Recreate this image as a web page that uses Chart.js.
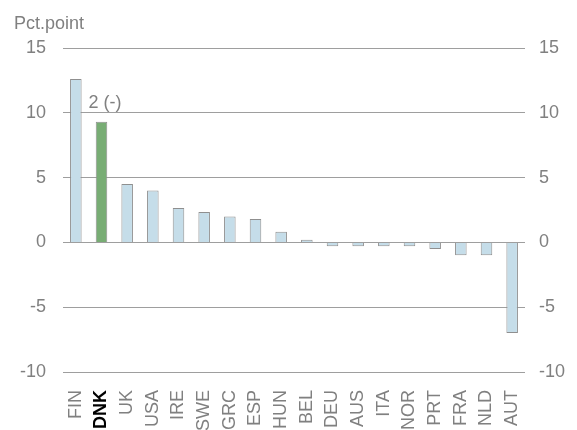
<!DOCTYPE html>
<html>
<head>
<meta charset="utf-8">
<script src="https://cdn.jsdelivr.net/npm/chart.js@4"></script>
<style>
	html, body { margin: 0; padding: 0; background: #fff; }
	#wrap { width: 577px; height: 430px; }
</style>
</head>
<body>
<div id="wrap"><canvas id="chart" width="577" height="430"></canvas></div>
<script>
// Negara dan nilai (pct.point)
const countries = ['FIN', 'DNK', 'UK', 'USA', 'IRE', 'SWE', 'GRC', 'ESP', 'HUN', 'BEL', 'DEU', 'AUS', 'ITA', 'NOR', 'PRT', 'FRA', 'NLD', 'AUT'];
const values = [12.6, 9.3, 4.5, 4.0, 2.65, 2.35, 2.0, 1.8, 0.82, 0.2, -0.3, -0.3, -0.3, -0.3, -0.5, -1.0, -1.0, -7.0];
const yTicks = [15, 10, 5, 0, -5, -10];
const highlight = 'DNK';
const unitLabel = 'Pct.point';
const rankNote = '2 (-)';

const barFill = '#c5dde9';
const barFillHi = '#78ad74';
const barBorder = '#8f8f8f';
const textGray = '#808080';
const FONT = 'Liberation Sans, Arial, sans-serif';

const fills = countries.map(c => c === highlight ? barFillHi : barFill);

// Teks tambahan: satuan di kiri atas dan catatan peringkat di atas DNK
const notesPlugin = {
	id: 'notes',
	afterDraw(chart) {
		const ctx = chart.ctx;
		const x = chart.scales.x;
		const y = chart.scales.y;
		const i = countries.indexOf(highlight);
		ctx.save();
		ctx.fillStyle = textGray;
		ctx.font = '18px ' + FONT;
		ctx.textBaseline = 'alphabetic';
		ctx.textAlign = 'left';
		ctx.fillText(unitLabel, 14, 29);
		ctx.fillText(rankNote, x.getPixelForValue(i) - 13, y.getPixelForValue(values[i] + 1.6) + 7);
		ctx.restore();
	}
};

new Chart(document.getElementById('chart'), {
	type: 'bar',
	data: {
		labels: countries,
		datasets: [{
			data: values,
			backgroundColor: fills,
			borderColor: barBorder,
			borderWidth: 1,
			barPercentage: 0.45,
			categoryPercentage: 1
		}]
	},
	options: {
		responsive: false,
		animation: false,
		layout: { padding: { top: 48, left: 0, right: 0, bottom: 0 } },
		plugins: {
			legend: { display: false },
			tooltip: { enabled: false }
		},
		scales: {
			x: {
				grid: { display: false },
				border: { display: false },
				ticks: {
					autoSkip: false,
					minRotation: 90,
					maxRotation: 90,
					padding: 10,
					color: c => c.index === 1 ? '#000' : textGray,
					font: c => ({ family: FONT, size: 18, weight: c.index === 1 ? 'bold' : 'normal' })
				},
				afterFit(scale) { scale.height = 58; }
			},
			y: {
				min: -10,
				max: 15,
				afterBuildTicks(scale) { scale.ticks = yTicks.map(v => ({ value: v })); },
				grid: { color: '#9e9e9e', lineWidth: 1, drawTicks: false },
				border: { display: false },
				ticks: { padding: 17, color: textGray, font: { family: FONT, size: 18 } },
				afterFit(scale) { scale.width = 63; }
			},
			y2: {
				position: 'right',
				min: -10,
				max: 15,
				afterBuildTicks(scale) { scale.ticks = yTicks.map(v => ({ value: v })); },
				grid: { display: false, drawTicks: false },
				border: { display: false },
				ticks: { padding: 14, color: textGray, font: { family: FONT, size: 18 } },
				afterFit(scale) { scale.width = 52; }
			}
		}
	},
	plugins: [notesPlugin]
});
</script>
</body>
</html>
